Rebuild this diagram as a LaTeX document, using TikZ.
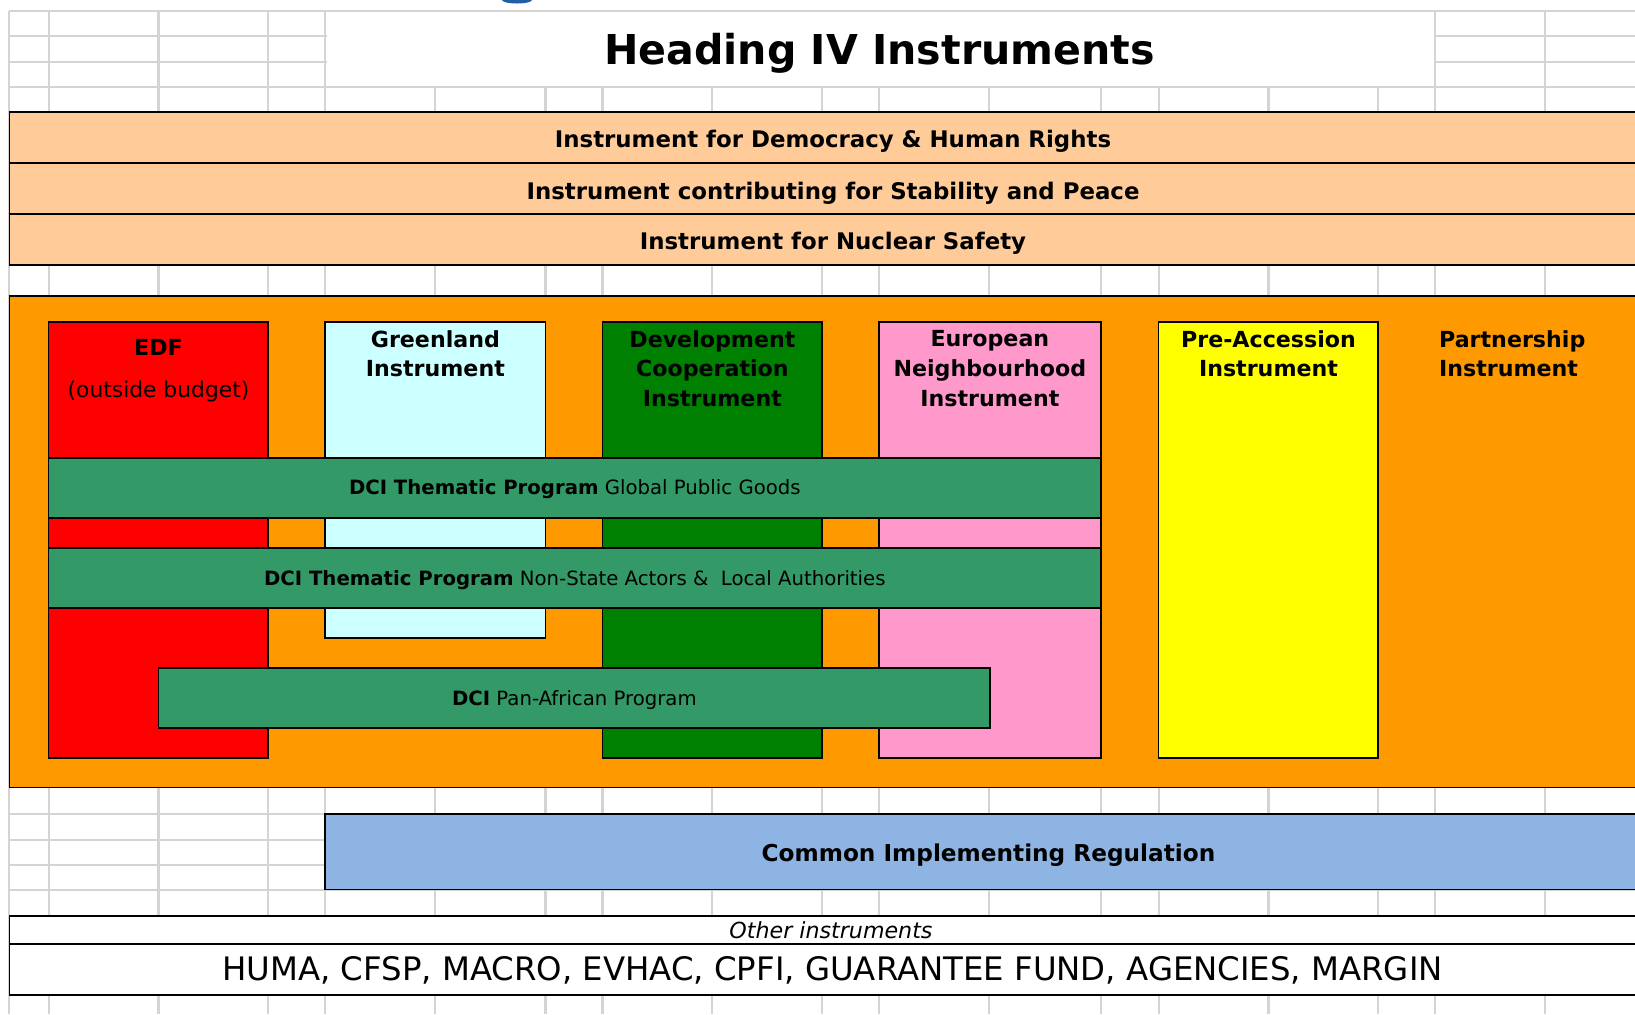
\documentclass[tikz,border=0pt]{standalone}
\usepackage{fontspec}
\setmainfont{DejaVu Sans}
\definecolor{gridgray}{HTML}{D4D4D4}
\definecolor{peach}{HTML}{FFCC99}
\definecolor{frameorange}{HTML}{FF9900}
\definecolor{edfred}{HTML}{FF0000}
\definecolor{icecyan}{HTML}{CCFFFF}
\definecolor{dcigreen}{HTML}{008000}
\definecolor{enipink}{HTML}{FF99CC}
\definecolor{ipayellow}{HTML}{FFFF00}
\definecolor{bandgreen}{HTML}{339966}
\definecolor{cirblue}{HTML}{8DB4E2}
\definecolor{dotblue}{HTML}{1F5FA6}

\begin{document}
\begin{tikzpicture}[x=0.01cm,y=-0.01cm]
	\tikzstyle{gridline} = [draw=gridgray,line width=0.6pt]
	\tikzstyle{box} = [draw=black,line width=0.5pt]
	\tikzstyle{head} = [font=\fontsize{6.5}{8}\selectfont\bfseries,anchor=base]
	\tikzstyle{lbl} = [font=\fontsize{6.3}{8.5}\selectfont\bfseries,align=center,anchor=north,inner sep=0pt]
	\tikzstyle{band} = [font=\fontsize{5.6}{7}\selectfont,anchor=base]

	\useasboundingbox (0,0) rectangle (1635,1014);
	\clip (0,0) rectangle (1635,1014);
	\fill[dotblue] (517,0) ellipse (15 and 3.5);

	% spreadsheet grid behind everything
	\foreach \x in {9.4,48.6,158.5,268.3,325.3,435.4,545.5,602.5,712.4,822.3,878.8,989,1101,1158.6,1268.5,1378.3,1434.8,1544.6}
		\draw[gridline] (\x,11) -- (\x,1014);
	\foreach \y in {11,36,62,87,112,265,296,787,814,840,865,890,915.7,944.3,995}
		\draw[gridline] (9.4,\y) -- (1635,\y);
	\fill[white] (326.6,12.2) rectangle (1433.5,85.8);
	\node[font=\fontsize{11.7}{14}\selectfont\bfseries,anchor=base] (title) at (879.5,64) {Heading IV Instruments};

	% thematic instruments
	\filldraw[box,fill=peach] (9.4,112.3) rectangle (1660,163.3);
	\filldraw[box,fill=peach] (9.4,163.3) rectangle (1660,214.3);
	\filldraw[box,fill=peach] (9.4,214.3) rectangle (1660,265);
	\node[head] (eidhr) at (833,147.7) {Instrument for Democracy \& Human Rights};
	\node[head] (icsp) at (833,199) {Instrument contributing for Stability and Peace};
	\node[head] (insc) at (833,249.3) {Instrument for Nuclear Safety};

	% geographic instruments
	\filldraw[box,fill=frameorange] (9.4,296) rectangle (1660,787.5);
	\filldraw[box,fill=edfred] (48.6,321.7) rectangle (268.3,757.7);
	\filldraw[box,fill=icecyan] (325.3,321.7) rectangle (545.5,637.7);
	\filldraw[box,fill=dcigreen] (602.5,321.7) rectangle (822.3,757.7);
	\filldraw[box,fill=enipink] (878.8,321.7) rectangle (1101,757.7);
	\filldraw[box,fill=ipayellow] (1158.6,321.7) rectangle (1378.3,757.7);

	\node[font=\fontsize{6.3}{8}\selectfont\bfseries,anchor=base] (edf) at (158.5,355) {EDF};
	\node[font=\fontsize{6.2}{8}\selectfont,anchor=base] (edfnote) at (158.5,397) {(outside budget)};
	\node[lbl] (gi) at (435.4,329.5) {Greenland\\Instrument};
	\node[lbl] (dci) at (712.4,329.5) {Development\\Cooperation\\Instrument};
	\node[lbl] (eni) at (989.9,329.5) {European\\Neighbourhood\\Instrument};
	\node[lbl] (ipa) at (1268.5,329.5) {Pre-Accession\\Instrument};
	\node[lbl,align=left,anchor=north west] (pi) at (1438.4,329.5) {Partnership\\Instrument};

	% DCI programmes across the columns
	\filldraw[box,fill=bandgreen] (48.6,457.7) rectangle (1101,517.7);
	\filldraw[box,fill=bandgreen] (48.6,548.3) rectangle (1101,608.3);
	\filldraw[box,fill=bandgreen] (158.5,668.3) rectangle (990.2,728.3);
	\node[band] (gpg) at (574.8,494.9) {\textbf{DCI Thematic Program} Global Public Goods};
	\node[band] (nsa) at (574.8,585.5) {\textbf{DCI Thematic Program} Non-State Actors \&\ \ Local Authorities};
	\node[band] (panaf) at (574.4,705.5) {\textbf{DCI} Pan-African Program};

	% regulation and other instruments
	\filldraw[box,fill=cirblue] (325.3,814) rectangle (1660,889.5);
	\node[font=\fontsize{6.6}{8}\selectfont\bfseries,anchor=base] (cir) at (988.5,861) {Common Implementing Regulation};
	\filldraw[box,fill=white] (9.4,915.7) rectangle (1660,944.3);
	\filldraw[box,fill=white] (9.4,944.3) rectangle (1660,995);
	\node[font=\fontsize{6.3}{8}\selectfont\itshape,anchor=base] (other) at (831,938.5) {Other instruments};
	\node[font=\fontsize{9.2}{11}\selectfont,anchor=base] (rest) at (832.5,980) {HUMA, CFSP, MACRO, EVHAC, CPFI, GUARANTEE FUND, AGENCIES, MARGIN};
\end{tikzpicture}
\end{document}
